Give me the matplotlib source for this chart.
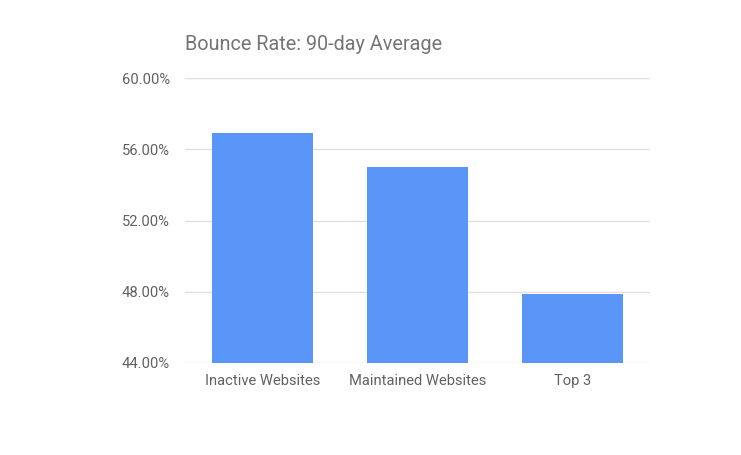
import matplotlib
matplotlib.use("Agg")
import matplotlib.pyplot as plt
from matplotlib.ticker import FuncFormatter

categories = ["Inactive Websites", "Maintained Websites", "Top 3"]
bounce_rate = [56.91, 55.00, 47.87]
y_ticks = [44, 48, 52, 56, 60]

plt.rcParams['font.family'] = ['Roboto', 'DejaVu Sans']

fig = plt.figure(figsize=(7.41, 4.55), dpi=100)
ax = fig.add_axes([185/741, 92/455, 465/741, 285/455])

x = list(range(len(categories)))
ax.bar(x, bounce_rate, width=0.65, color="#5A95F8", zorder=3)
ax.set_xlim(-0.5, 2.5)
ax.set_ylim(44, 60)
ax.set_yticks(y_ticks)
ax.yaxis.set_major_formatter(FuncFormatter(lambda v, p: f"{v:.2f}%"))
ax.set_xticks(x)
ax.set_xticklabels(categories)
ax.grid(axis='y', color="#E0E0E0", linewidth=1, zorder=0)
for s in ax.spines.values():
    s.set_visible(False)
ax.tick_params(axis='both', length=0, labelsize=10.6, labelcolor="#616161")
ax.tick_params(axis='y', pad=11)
ax.tick_params(axis='x', pad=8)

fig.text(185/741, 1 - 45/455, "Bounce Rate: 90-day Average", fontsize=14.3,
         color="#757575", ha='left', va='center')

fig.savefig("out.png", dpi=100)
